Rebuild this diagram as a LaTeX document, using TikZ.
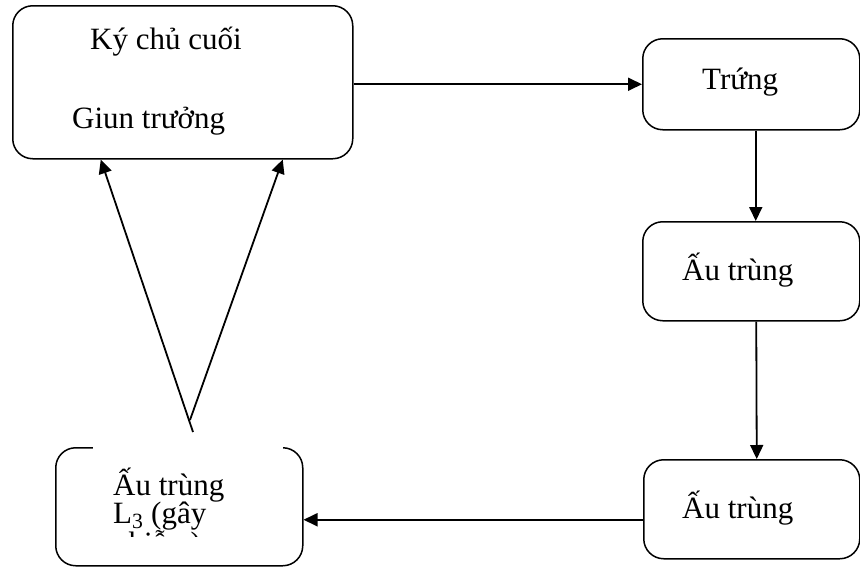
\documentclass[tikz,border=0pt]{standalone}
\usepackage{fontspec}
\setmainfont{Liberation Serif}
\usetikzlibrary{arrows.meta}

\begin{document}
\begin{tikzpicture}[
    x=1pt, y=-1pt,
    >={Triangle[length=14pt, width=13pt]},
    stage/.style={draw=black, line width=1.5pt, rounded corners=20pt, inner sep=0pt, anchor=north west},
    lbl/.style={anchor=base west, inner sep=0pt, font=\fontsize{31}{28}\selectfont},
    flow/.style={line width=1.8pt, ->}
]
\useasboundingbox (0,0) rectangle (860,568);

% Final host (top left)
\node[stage, minimum width=340pt, minimum height=153pt] (HOST) at (12,5) {};
\node[lbl] (HOSTT) at (90,49) {Ký chủ cuối};
\node[lbl] (WORMT) at (72,128) {Giun trưởng};

% Egg
\node[stage, minimum width=217pt, minimum height=91pt] (EGG) at (642,38) {};
\node[lbl] (EGGT) at (702,89) {Trứng};

% Larva 1
\node[stage, minimum width=217pt, minimum height=99pt] (LARVA1) at (642,221) {};
\node[lbl] (LARVA1T) at (682,280) {Ấu trùng};

% Larva 2
\node[stage, minimum width=216pt, minimum height=99pt] (LARVA2) at (643,459) {};
\node[lbl] (LARVA2T) at (682,518) {Ấu trùng};

% Infective larva L3 (text frame hides the top edge)
\node[stage, minimum width=247pt, minimum height=118pt] (LARVA3) at (55,447) {};
\begin{scope}
  \clip (93,440) rectangle (283,536);
  \fill[white] (93,440) rectangle (283,536);
  \node[lbl] (LARVA3A) at (113,495) {Ấu trùng};
  \node[lbl] (LARVA3B) at (113,523) {L\textsubscript{3} (gây};
  \node[lbl] (LARVA3C) at (113,553) {nhiễm)};
\end{scope}

% Cycle arrows
\draw[flow] (HOST.east |- EGG.west) -- (EGG.west);
\draw[flow] ([xshift=4.5pt]EGG.south) -- ([xshift=4.5pt]LARVA1.north);
\draw[flow] ([xshift=5pt]LARVA1.south) -- ([xshift=5pt]LARVA2.north);
\draw[flow] ([yshift=-10.5pt]LARVA2.west) -- ([yshift=-10.5pt]LARVA2.west -| LARVA3.east);

% Infection back to host
\coordinate (INFL) at (193,432);
\coordinate (INFR) at (190,420);
\draw[flow] (INFL) -- ([xshift=-82pt]HOST.south);
\draw[flow] (INFR) -- ([xshift=100pt]HOST.south);

\end{tikzpicture}
\end{document}
